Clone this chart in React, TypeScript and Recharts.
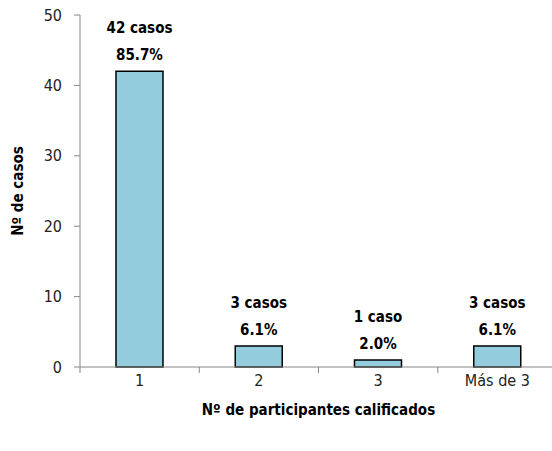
import React from 'react';
import { BarChart, Bar, XAxis, YAxis, LabelList, Label } from 'recharts';

const categories = ['1', '2', '3', 'Más de 3'];
const casos = [42, 3, 1, 3];
const casosLabels = ['42 casos', '3 casos', '1 caso', '3 casos'];
const pctLabels = ['85.7%', '6.1%', '2.0%', '6.1%'];
const yTicks = [0, 10, 20, 30, 40, 50];

const data = categories.map((c, i) => ({ name: c, casos: casos[i] }));

const FONT = '"DejaVu Sans Condensed", "Liberation Sans Narrow", sans-serif';
const AXIS = '#868686';

const BarLabel = (props: any) => {
  const { x, y, width, index } = props;
  const cx = x + width / 2;
  return (
    <g fontFamily={FONT} fontWeight="bold" fontSize={15} fill="#000" textAnchor="middle">
      <text x={cx} y={y - 38}>{casosLabels[index]}</text>
      <text x={cx} y={y - 11}>{pctLabels[index]}</text>
    </g>
  );
};

// excel style: tick marks sit on the category boundaries, labels in the middle
const CatTick = (props: any) => {
  const { x, y, payload, index, visibleTicksCount } = props;
  const half = payload.offset || 0;
  return (
    <g>
      <line x1={x - half} y1={y} x2={x - half} y2={y + 6} stroke={AXIS} />
      {index === visibleTicksCount - 1 && (
        <line x1={x + half} y1={y} x2={x + half} y2={y + 6} stroke={AXIS} />
      )}
      <text x={x} y={y + 19} textAnchor="middle" fontFamily={FONT} fontSize={16} fill="#222">
        {payload.value}
      </text>
    </g>
  );
};

const YTitle = (props: any) => {
  const { viewBox } = props;
  const x = viewBox.x + 23;
  const y = viewBox.y + viewBox.height / 2;
  return (
    <text
      x={x}
      y={y}
      transform={`rotate(-90, ${x}, ${y})`}
      textAnchor="middle"
      fontFamily={FONT}
      fontWeight="bold"
      fontSize={15}
      fill="#000"
    >
      Nº de casos
    </text>
  );
};

const XTitle = (props: any) => {
  const { viewBox } = props;
  return (
    <text
      x={viewBox.x + viewBox.width / 2}
      y={viewBox.y + 48}
      textAnchor="middle"
      fontFamily={FONT}
      fontWeight="bold"
      fontSize={15}
      fill="#000"
    >
      Nº de participantes  calificados
    </text>
  );
};

const App = () => {
  return (
    <div style={{ position: 'absolute', left: 0, top: 0, width: 552, height: 451, overflow: 'hidden', background: '#fff' }}>
      <BarChart width={560} height={451} data={data} margin={{ top: 15, right: 3, left: 0, bottom: 30 }}>
        <XAxis
          dataKey="name"
          height={54}
          axisLine={{ stroke: AXIS }}
          tickLine={false}
          tickSize={0}
          tickMargin={0}
          interval={0}
          tick={<CatTick />}
        >
          <Label content={<XTitle />} />
        </XAxis>
        <YAxis
          width={80}
          domain={[0, 50]}
          ticks={yTicks}
          axisLine={{ stroke: AXIS }}
          tickLine={{ stroke: AXIS }}
          tickSize={6}
          tickMargin={12}
          tick={{ fontFamily: FONT, fontSize: 16, fill: '#222' }}
        >
          <Label content={<YTitle />} />
        </YAxis>
        <Bar dataKey="casos" barSize={47} fill="#93CDDD" stroke="#000" strokeWidth={1.5} isAnimationActive={false}>
          <LabelList dataKey="casos" content={<BarLabel />} />
        </Bar>
      </BarChart>
    </div>
  );
};

export default App;
